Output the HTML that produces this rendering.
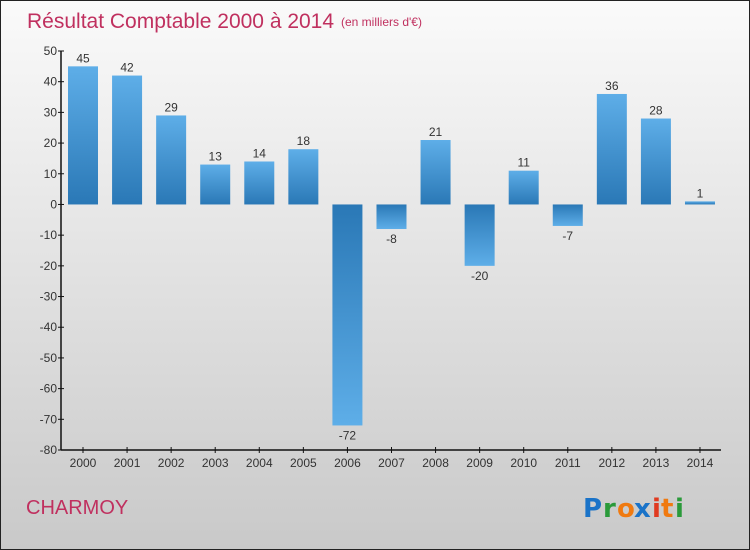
<!DOCTYPE html>
<html><head><meta charset="utf-8"><style>
body{margin:0}
#wrap{width:750px;height:550px;position:relative;box-sizing:border-box;border:1px solid #222;background:linear-gradient(#fafafa,#c9c9c9);font-family:"Liberation Sans",sans-serif;overflow:hidden}
</style></head><body>
<div id="wrap">
<svg id="chart" width="748" height="548">
<defs>
<linearGradient id="gpos" x1="0" y1="0" x2="0" y2="1"><stop offset="0" stop-color="#5eaee8"/><stop offset="1" stop-color="#2a78b6"/></linearGradient>
<linearGradient id="gneg" x1="0" y1="0" x2="0" y2="1"><stop offset="0" stop-color="#2a78b6"/><stop offset="1" stop-color="#5eaee8"/></linearGradient>
</defs>
<text x="26" y="27" font-size="21" fill="#c0305f">Résultat Comptable 2000 à 2014</text>
<text x="340" y="25" font-size="12" fill="#c0305f">(en milliers d'€)</text>
<text x="25" y="513" font-size="20" fill="#c0305f">CHARMOY</text>
<g font-size="26" font-weight="bold" font-family="'DejaVu Sans',sans-serif">
<text x="582" y="516" fill="#1a73c8">P</text><text x="602" y="516" fill="#2a9a3a">r</text><text x="616" y="516" fill="#f07a10">o</text><text x="633" y="516" fill="#1a73c8">x</text><text x="651" y="516" fill="#e03a20">i</text><text x="660" y="516" fill="#f07a10">t</text><text x="674" y="516" fill="#2a9a3a">i</text>
</g>
<g id="axes"></g>
<g id="bars"></g>
</svg>
</div>
<script>
const years=["2000","2001","2002","2003","2004","2005","2006","2007","2008","2009","2010","2011","2012","2013","2014"];
const values=[45,42,29,13,14,18,-72,-8,21,-20,11,-7,36,28,1];
const yTicks=[50,40,30,20,10,0,-10,-20,-30,-40,-50,-60,-70,-80];
const NS="http://www.w3.org/2000/svg";
const yMax=50,yMin=-80,yTop=50,yBot=449,x0=60,x1=720;
function yS(v){return yTop+(yMax-v)/(yMax-yMin)*(yBot-yTop);}
function xS(i){return 82+i*44.07;}
function mk(t,a,p){const e=document.createElementNS(NS,t);for(const k in a)e.setAttribute(k,a[k]);p.appendChild(e);return e;}
const ax=document.getElementById('axes'),bg=document.getElementById('bars');
let ln=mk('line',{x1:x0,y1:yTop,x2:x0,y2:yBot,stroke:'#111','stroke-width':1.5},ax);


ln=mk('line',{x1:x0,y1:yBot,x2:x1,y2:yBot,stroke:'#111','stroke-width':1.5},ax);


yTicks.forEach(v=>{
 mk('line',{x1:x0-3,y1:yS(v),x2:x0+3,y2:yS(v),stroke:'#111'},ax);
 const t=mk('text',{x:x0-4,y:yS(v)+4,'font-size':12,fill:'#333','text-anchor':'end'},ax);
 t.textContent=v;
 
 
});
years.forEach((yr,i)=>{
 mk('line',{x1:xS(i),y1:yBot-3,x2:xS(i),y2:yBot+3,stroke:'#111'},ax);
 const t=mk('text',{x:xS(i),y:yBot+17,'font-size':12,fill:'#333','text-anchor':'middle'},ax);
 t.textContent=yr;
 
 
 const v=values[i],y0=yS(0),yv=yS(v);
 const r=mk('rect',{x:xS(i)-15,y:Math.min(y0,yv),width:30,height:Math.max(1,Math.abs(yv-y0)),fill:v>=0?'url(#gpos)':'url(#gneg)'},bg);
 
 
 const lb=mk('text',{x:xS(i),y:v>=0?yv-4:yv+14,'font-size':12,fill:'#333','text-anchor':'middle'},bg);
 lb.textContent=v;
 
 
});
</script>
</body></html>
